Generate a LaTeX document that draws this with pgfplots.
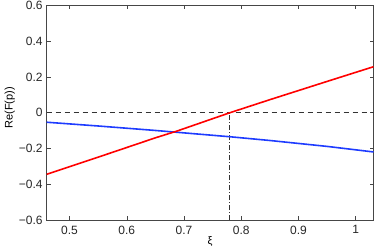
\documentclass[border=0pt]{standalone}
\usepackage{fontspec}
\setmainfont{Liberation Sans}
\usepackage{pgfplots}
\pgfplotsset{compat=1.18}
\definecolor{mred}{RGB}{255,0,0}
\definecolor{mblue}{RGB}{30,60,255}
\definecolor{axgray}{RGB}{70,70,70}

\begin{document}
\begin{tikzpicture}
  \begin{axis}[
    scale only axis,
    width=327pt, height=215pt,
    xmin=0.46, xmax=1.031,
    ymin=-0.6, ymax=0.6,
    axis line style={axgray, line width=0.8pt},
    every tick/.style={axgray, line width=0.6pt},
    tick align=inside,
    major tick length=4pt,
    xtick={0.5,0.6,0.7,0.8,0.9,1},
    xticklabels={0.5,0.6,0.7,0.8,0.9,1},
    ytick={-0.6,-0.4,-0.2,0,0.2,0.4,0.6},
    yticklabels={−0.6,−0.4,−0.2,0,0.2,0.4,0.6},
    tick label style={font=\fontsize{12}{14}\selectfont, text=black!85},
    yticklabel style={xshift=-0.5pt},
    xticklabel style={yshift=-2pt},
    xlabel={ξ},
    xlabel style={at={(axis description cs:0.5,0)}, anchor=north, yshift=-16pt, inner sep=0pt, font=\fontsize{11}{13}\selectfont},
    ylabel={Re(F(p))},
    ylabel style={at={(axis description cs:-0.113,0.523)}, anchor=center, font=\fontsize{11}{13}\selectfont},
  ]
    % reference lines
    \addplot[black!80, line width=0.8pt, dash pattern=on 5pt off 4pt] coordinates {(0.46,0) (1.031,0)};
    \addplot[black!80, line width=0.8pt, dash pattern=on 5pt off 2pt on 1pt off 2pt] coordinates {(0.78,-0.6) (0.78,0)};
    % blue curve
    \addplot[mblue, line width=1.6pt] coordinates {
      (0.46,-0.053) (0.55,-0.074) (0.65,-0.099) (0.687,-0.109) (0.78,-0.134)
      (0.85,-0.155) (0.95,-0.188) (1.031,-0.219)
    };
    % red line
    \addplot[mred, line width=1.6pt] coordinates {
      (0.46,-0.344) (0.55,-0.248) (0.65,-0.140) (0.687,-0.103) (0.78,0)
      (0.85,0.073) (0.95,0.175) (1.031,0.257)
    };
  \end{axis}
  \pgfresetboundingbox
  \path ([xshift=-46.7pt,yshift=-29pt]current axis.south west) rectangle ([xshift=0.5pt,yshift=5.3pt]current axis.north east);
\end{tikzpicture}
\end{document}
